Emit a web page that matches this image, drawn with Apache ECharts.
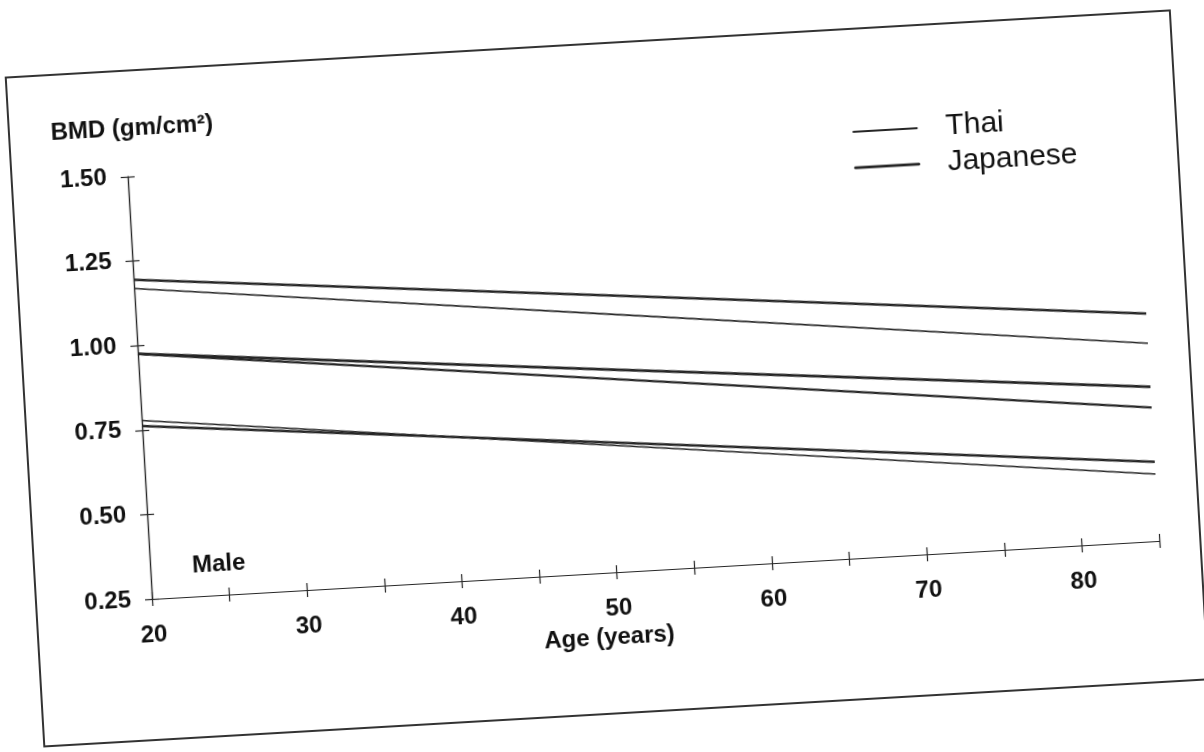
<!DOCTYPE html>
<html>
<head>
<meta charset="utf-8">
<script src="https://cdn.jsdelivr.net/npm/echarts@6/dist/echarts.min.js"></script>
<style>
  html, body { margin: 0; padding: 0; background: #ffffff; overflow: hidden; }
  #chart { width: 1204px; height: 752px; transform: rotate(-3.3deg); transform-origin: 152px 599px; }
</style>
</head>
<body>
<div id="chart"></div>
<script>
const ages = [20, 50, 85];
// Japanese (thicker lines): upper, mean, lower
const japaneseUpper = [1.195, 1.07, 0.923];
const japaneseMean  = [0.976, 0.85, 0.706];
const japaneseLower = [0.762, 0.634, 0.484];
// Thai (thinner lines): upper, mean, lower
const thaiUpper = [1.169, 1.015, 0.835];
const thaiMean  = [0.975, 0.823, 0.645];
const thaiLower = [0.778, 0.626, 0.448];

const yTicks = [0.25, 0.50, 0.75, 1.00, 1.25, 1.50];
const xTickLabels = [20, 30, 40, 50, 60, 70, 80];

const ink = '#262626';
const font = 'Liberation Sans, Arial, sans-serif';

function pairs(vals) { return ages.map((a, i) => [a, vals[i]]); }

function lineSeries(name, vals, width) {
  return {
    name: name, type: 'line', data: pairs(vals), symbol: 'none',
    lineStyle: { color: ink, width: width }, itemStyle: { color: ink },
    silent: true, animation: false
  };
}

const xBase = {
  type: 'value', min: 20, max: 85, interval: 5, position: 'bottom',
  splitLine: { show: false },
  axisLine: { show: true, onZero: false, lineStyle: { color: ink, width: 1.2 } }
};
const yBase = {
  type: 'value', min: 0.25, max: 1.5, interval: 0.25, position: 'left',
  splitLine: { show: false },
  axisLine: { show: true, onZero: false, lineStyle: { color: ink, width: 1.2 } }
};

const chart = echarts.init(document.getElementById('chart'), null, { renderer: 'canvas' });
chart.setOption({
  backgroundColor: '#ffffff',
  animation: false,
  title: {
    text: 'Male', left: 194, top: 556, padding: 0,
    textStyle: { fontFamily: font, fontSize: 24, fontWeight: 'bold', color: '#111' }
  },
  legend: {
    orient: 'vertical', left: 878, top: 158, padding: 0,
    itemWidth: 65, itemHeight: 2, itemGap: 6,
    icon: 'rect',
    data: [
      { name: 'Thai', itemStyle: { color: ink, borderColor: ink, borderWidth: 0 } },
      { name: 'Japanese', itemStyle: { color: ink, borderColor: ink, borderWidth: 0.8 } }
    ],
    textStyle: { fontFamily: font, fontSize: 30, color: '#111', padding: [0, 0, 0, 23] }
  },
  grid: { left: 152, top: 176, width: 1009, height: 423, containLabel: false },
  graphic: [{
    type: 'rect', shape: { x: 36, y: 70, width: 1166, height: 670 },
    style: { fill: 'none', stroke: '#333', lineWidth: 2 }, silent: true
  }],
  xAxis: [
    Object.assign({}, xBase, {
      name: 'Age (years)', nameLocation: 'middle', nameGap: 53,
      nameTextStyle: { fontFamily: font, fontSize: 24, fontWeight: 'bold', color: '#111', padding: [0, 100, 0, 0] },
      axisTick: { show: true, inside: false, length: 7, lineStyle: { color: ink, width: 1.2 } },
      axisLabel: {
        margin: 24, fontFamily: font, fontSize: 24, fontWeight: 'bold', color: '#111',
        formatter: v => (xTickLabels.indexOf(v) >= 0 ? String(v) : '')
      }
    }),
    Object.assign({}, xBase, {
      axisTick: { show: true, inside: true, length: 7, lineStyle: { color: ink, width: 1.2 } },
      axisLabel: { show: false }
    })
  ],
  yAxis: [
    Object.assign({}, yBase, {
      name: 'BMD (gm/cm²)', nameLocation: 'end', nameGap: 36,
      nameTextStyle: { fontFamily: font, fontSize: 24, fontWeight: 'bold', color: '#111', align: 'center', padding: [0, 0, 0, 14] },
      axisTick: { show: true, inside: false, length: 7, lineStyle: { color: ink, width: 1.2 } },
      axisLabel: {
        margin: 21, fontFamily: font, fontSize: 24, fontWeight: 'bold', color: '#111',
        formatter: v => {
          const t = yTicks.find(y => Math.abs(y - v) < 1e-9);
          return t === undefined ? '' : t.toFixed(2);
        }
      }
    }),
    Object.assign({}, yBase, {
      axisTick: { show: true, inside: true, length: 7, lineStyle: { color: ink, width: 1.2 } },
      axisLabel: { show: false }
    })
  ],
  series: [
    lineSeries('Japanese', japaneseUpper, 2.4),
    lineSeries('Thai', thaiUpper, 1.6),
    lineSeries('Japanese', japaneseMean, 2.8),
    lineSeries('Thai', thaiMean, 2.2),
    lineSeries('Japanese', japaneseLower, 2.4),
    lineSeries('Thai', thaiLower, 1.6)
  ]
});
</script>
</body>
</html>
